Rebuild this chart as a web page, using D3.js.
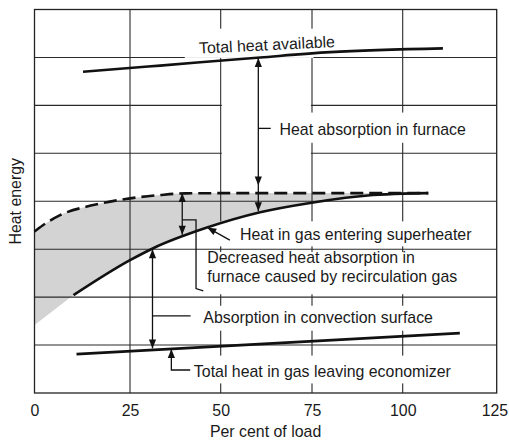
<!DOCTYPE html>
<html><head><meta charset="utf-8">
<script src="https://cdn.jsdelivr.net/npm/d3@7"></script>
<style>
html,body{margin:0;padding:0;background:#fff;}
svg{display:block;font-family:"Liberation Sans",Arial,Helvetica,sans-serif;}
</style></head><body>
<svg id="c" width="509" height="440"></svg>
<script>
// ---- data (x: per cent of load, y: heat energy in grid units) ----
const xTicks = [0, 25, 50, 75, 100, 125];
const yGrid = [1, 2, 3, 4, 5, 6, 7];
const totalHeatX = [12.7, 33.3, 60.8, 80, 110.7];
const totalHeatY = [6.70, 6.83, 7.00, 7.11, 7.19];
const gasNoRecircX = [0, 2.2, 6.7, 15.4, 25, 33.3, 40.3, 58, 106.8];
const gasNoRecircY = [3.37, 3.50, 3.71, 3.92, 4.06, 4.13, 4.165, 4.17, 4.17];
const superheaterX = [10.2, 25, 31.4, 45.8, 60.8, 74.9, 91.8, 100.1, 106.8];
const superheaterY = [2.04, 2.77, 3.02, 3.44, 3.77, 3.97, 4.13, 4.16, 4.17];
const shadeLowX = [0, 4.1, 7.5];
const shadeLowY = [1.42, 1.67, 1.88];
const economizerX = [11, 115.2];
const economizerY = [0.81, 1.25];
const labels = [
  "Total heat available",
  "Heat absorption in furnace",
  "Heat in gas entering superheater",
  "Decreased heat absorption in",
  "furnace caused by recirculation gas",
  "Absorption in convection surface",
  "Total heat in gas leaving economizer"
];
const xTitle = "Per cent of load";
const yTitle = "Heat energy";

// ---- scales (the original drawing's tick spacing is slightly uneven) ----
const svg = d3.select("#c");
const x = d3.scaleLinear().domain(xTicks).range([34.5, 130, 220.7, 312, 402.7, 496.7]);
const y = d3.scaleLinear().domain([0, 8]).range([393, 9.5]);
const FS = 15.9;
const pts = (xs, ys) => xs.map((v, i) => [v, ys[i]]);

// gaps where label boxes hide the grid [x0,x1,y0,y1] in data units
const gaps = [
  [40.1, 75.4, 6.99, 7.6],
  [50.3, 74.7, 4.22, 6.99],
  [65.1, 118.2, 5.22, 5.85],
  [48.9, 119.3, 3.06, 3.58],
  [45.2, 117.1, 2.06, 2.94],
  [44.2, 109.4, 1.3, 1.82],
  [42.3, 115.8, 0.2, 0.78]
];

const defs = svg.append("defs");
const mask = defs.append("mask").attr("id", "gridMask").attr("maskUnits", "userSpaceOnUse")
  .attr("x", 0).attr("y", 0).attr("width", 509).attr("height", 440);
mask.append("rect").attr("width", 509).attr("height", 440).attr("fill", "#fff");
mask.selectAll("rect.g").data(gaps).join("rect").attr("class", "g")
  .attr("x", d => x(d[0])).attr("width", d => x(d[1]) - x(d[0]))
  .attr("y", d => y(d[3])).attr("height", d => y(d[2]) - y(d[3]))
  .attr("fill", "#000");

// ---- shaded region: under the dashed curve, clipped to above the lower boundary ----
const mono = d3.curveMonotoneX;
const upper = pts(gasNoRecircX, gasNoRecircY);
const lower = pts(shadeLowX, shadeLowY).concat(pts(superheaterX, superheaterY));
defs.append("clipPath").attr("id", "aboveLower").append("path")
  .attr("d", d3.area().x(d => x(d[0])).y0(y(8)).y1(d => y(d[1])).curve(mono)(lower));
svg.append("path").attr("clip-path", "url(#aboveLower)")
  .attr("d", d3.area().x(d => x(d[0])).y0(y(0)).y1(d => y(d[1])).curve(mono)(upper))
  .attr("fill", "#d3d3d3").attr("stroke", "none");

// ---- grid ----
const grid = svg.append("g").attr("mask", "url(#gridMask)").attr("stroke", "#2a2a2a").attr("stroke-width", 1.1);
grid.selectAll("line.v").data(xTicks.slice(1, -1)).join("line").attr("class", "v")
  .attr("x1", d => x(d)).attr("x2", d => x(d)).attr("y1", y(8)).attr("y2", y(0));
grid.selectAll("line.h").data(yGrid).join("line").attr("class", "h")
  .attr("x1", x(0)).attr("x2", x(125)).attr("y1", d => y(d)).attr("y2", d => y(d));

// frame
svg.append("rect").attr("x", x(0)).attr("y", y(8)).attr("width", x(125) - x(0)).attr("height", y(0) - y(8))
  .attr("fill", "none").attr("stroke", "#222").attr("stroke-width", 1.3);

// ---- curves ----
const ln = d3.line().x(d => x(d[0])).y(d => y(d[1])).curve(mono);
const curves = svg.append("g").attr("fill", "none").attr("stroke", "#111").attr("stroke-width", 2.6);
curves.append("path").attr("d", ln(pts(totalHeatX, totalHeatY)));
curves.append("path").attr("d", ln(pts(superheaterX, superheaterY)));
curves.append("path").attr("d", ln(upper)).attr("stroke-dasharray", "13,6");
curves.append("path").attr("d", ln(pts(economizerX, economizerY)));

// ---- annotations ----
const ann = svg.append("g").attr("stroke", "#111").attr("stroke-width", 1.3).attr("fill", "none");
const heads = svg.append("g").attr("fill", "#111");
const straight = d3.line().x(d => x(d[0])).y(d => y(d[1]));
function seg(p) { ann.append("path").attr("d", straight(p)); }
function head(xv, yv, ang) { // ang: direction the arrow points, degrees (0 = right, 90 = down)
  heads.append("path").attr("d", "M0,0 L-9,-3.6 L-9,3.6 Z")
    .attr("transform", `translate(${x(xv)},${y(yv)}) rotate(${ang})`);
}
// furnace absorption arrow + superheater gas arrow
seg([[60.3, 6.99], [60.3, 3.79]]);
head(60.3, 6.99, -90); head(60.3, 4.33, 90); head(60.3, 3.79, 90);
seg([[60.3, 5.52], [63.7, 5.52]]);
// decreased absorption arrow & bracket
seg([[39.4, 4.17], [39.4, 3.30]]);
head(39.4, 4.17, -90); head(39.4, 3.30, 90);
seg([[39.4, 3.61], [43.2, 3.61], [43.2, 2.18], [45.2, 2.13]]);
// leader to superheater curve
seg([[52.5, 3.19], [46.6, 3.44]]);
head(46.3, 3.45, Math.atan2(y(3.45) - y(3.19), x(46.3) - x(52.5)) * 180 / Math.PI);
// convection arrow
seg([[31.2, 3.0], [31.2, 0.93]]);
head(31.2, 3.0, -90); head(31.2, 0.93, 90);
seg([[31.2, 1.61], [41.7, 1.61]]);
// economizer leader
seg([[36.4, 0.92], [36.4, 0.48], [41.6, 0.48]]);
head(36.4, 0.92, -90);

// ---- labels ----
const txt = svg.append("g").attr("fill", "#1a1a1a").style("font-size", FS + "px");
txt.append("text").attr("x", x(44.1)).attr("y", y(7.08))
  .attr("transform", `rotate(-2.8 ${x(44.1)} ${y(7.08)})`).text(labels[0]);
txt.append("text").attr("x", x(66.1)).attr("y", y(5.38)).text(labels[1]);
txt.append("text").attr("x", x(55.3)).attr("y", y(3.19)).text(labels[2]);
txt.append("text").attr("x", x(46.3)).attr("y", y(2.71)).text(labels[3]);
txt.append("text").attr("x", x(46.3)).attr("y", y(2.32)).text(labels[4]);
txt.append("text").attr("x", x(45.2)).attr("y", y(1.47)).text(labels[5]);
txt.append("text").attr("x", x(42.6)).attr("y", y(0.33)).text(labels[6]);

// ---- axes ----
const ax = svg.append("g").attr("transform", `translate(0,${y(0)})`)
  .call(d3.axisBottom(x).tickValues(xTicks).tickSize(0).tickPadding(12).tickFormat(d3.format("d")));
ax.select(".domain").remove();
ax.selectAll("text").attr("fill", "#1a1a1a").style("font-size", FS + "px")
  .style("font-family", '"Liberation Sans",Arial,sans-serif');
ax.selectAll(".tick").filter(d => d === 125).select("text").attr("text-anchor", "end").attr("dx", 11);

svg.append("text").attr("x", (x(0) + x(125)) / 2).attr("y", 437).attr("text-anchor", "middle")
  .attr("fill", "#1a1a1a").style("font-size", FS + "px").text(xTitle);
svg.append("text").attr("transform", `translate(21,${(y(0) + y(8)) / 2}) rotate(-90)`)
  .attr("text-anchor", "middle").attr("fill", "#1a1a1a").style("font-size", FS + "px").text(yTitle);
</script>
</body></html>
